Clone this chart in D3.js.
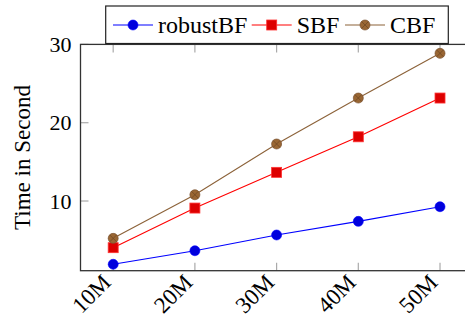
<!DOCTYPE html>
<html><head><meta charset="utf-8">
<script src="https://cdn.jsdelivr.net/npm/d3@7"></script>
<style>body{margin:0;background:#fff}svg{display:block}</style>
</head><body>
<svg id="c" width="465" height="320"></svg>
<script>
const categories = [10, 20, 30, 40, 50];
const xTickLabels = ["10M", "20M", "30M", "40M", "50M"];
const robustBF = [1.92, 3.65, 5.66, 7.4, 9.27];
const SBF = [4.04, 9.1, 13.66, 18.2, 23.15];
const CBF = [5.23, 10.8, 17.28, 23.15, 28.86];
const yTicks = [10, 20, 30];
const seriesNames = ["robustBF", "SBF", "CBF"];

const series = [
  {name: seriesNames[0], values: robustBF, line: "#0000ff", fill: "#0000dd", mark: "circle"},
  {name: seriesNames[1], values: SBF, line: "#ff0000", fill: "#dd0000", mark: "square"},
  {name: seriesNames[2], values: CBF, line: "#8c6239", fill: "#996633", mark: "otimes"}
];

const svg = d3.select("#c");
const L = 80.5, T = 44.4, B = 270.7, R = 472.7;
const x = d3.scaleLinear().domain([6, 54]).range([L, R]);
const y = d3.scaleLinear().domain([1.1, 30]).range([B, T]);
const font = "'Liberation Serif','Times New Roman',serif";

const tickLen = 8;
const g = svg.append("g");
categories.forEach(c => {
  g.append("line").attr("x1", x(c)).attr("x2", x(c)).attr("y1", B).attr("y2", B - tickLen)
    .attr("stroke", "#aaa").attr("stroke-width", 1.2);
  g.append("line").attr("x1", x(c)).attr("x2", x(c)).attr("y1", T).attr("y2", T + tickLen)
    .attr("stroke", "#aaa").attr("stroke-width", 1.2);
});
yTicks.forEach(v => {
  g.append("line").attr("x1", L).attr("x2", L + tickLen).attr("y1", y(v)).attr("y2", y(v))
    .attr("stroke", "#aaa").attr("stroke-width", 1.2);
});

svg.append("rect").attr("x", L).attr("y", T).attr("width", R - L).attr("height", B - T)
  .attr("fill", "none").attr("stroke", "#333").attr("stroke-width", 1.3);

yTicks.forEach(v => {
  svg.append("text").attr("x", L - 9).attr("y", y(v)).attr("dy", "0.35em")
    .attr("text-anchor", "end").attr("font-family", font).attr("font-size", 22)
    .text(v);
});
categories.forEach((c, i) => {
  svg.append("text").attr("transform", `translate(${x(c) - 1},${B + 13}) rotate(-45)`)
    .attr("text-anchor", "end").attr("font-family", font).attr("font-size", 23)
    .text(xTickLabels[i]);
});
svg.append("text").attr("transform", `translate(30,${(85 + 230) / 2}) rotate(-90)`)
  .attr("text-anchor", "middle").attr("font-family", font).attr("font-size", 23)
  .text("Time in Second");

function drawMark(sel, s, cx, cy) {
  if (s.mark === "circle") {
    sel.append("circle").attr("cx", cx).attr("cy", cy).attr("r", 5)
      .attr("fill", s.fill).attr("stroke", s.line).attr("stroke-width", 0.6);
  } else if (s.mark === "square") {
    sel.append("rect").attr("x", cx - 5).attr("y", cy - 5).attr("width", 10).attr("height", 10)
      .attr("fill", s.fill).attr("stroke", "#ff3333").attr("stroke-width", 0.8);
  } else {
    sel.append("circle").attr("cx", cx).attr("cy", cy).attr("r", 5)
      .attr("fill", s.fill).attr("stroke", "#7a5230").attr("stroke-width", 0.7);
    const d = 3.5;
    sel.append("path").attr("d", `M${cx - d},${cy - d}L${cx + d},${cy + d}M${cx - d},${cy + d}L${cx + d},${cy - d}`)
      .attr("stroke", "#6b4522").attr("stroke-width", 0.7);
  }
}

const line = d3.line().x((d, i) => x(categories[i])).y(d => y(d));
series.forEach(s => {
  svg.append("path").attr("d", line(s.values)).attr("fill", "none")
    .attr("stroke", s.line).attr("stroke-width", 1.1);
  const mg = svg.append("g");
  s.values.forEach((v, i) => drawMark(mg, s, x(categories[i]), y(v)));
});

const lg = svg.append("g");
lg.append("rect").attr("x", 105.7).attr("y", 6).attr("width", 342.6).attr("height", 37.5)
  .attr("fill", "#fff").attr("stroke", "#222").attr("stroke-width", 1.2);
const legX = [113, 251.7, 345];
series.forEach((s, i) => {
  const lx = legX[i], ly = 25;
  lg.append("line").attr("x1", lx).attr("x2", lx + 40).attr("y1", ly).attr("y2", ly)
    .attr("stroke", s.line).attr("stroke-width", 1.1);
  drawMark(lg, s, lx + 20, ly);
  lg.append("text").attr("x", lx + 45).attr("y", ly).attr("dy", "0.35em")
    .attr("font-family", font).attr("font-size", 24).text(s.name);
});
</script>
</body></html>
